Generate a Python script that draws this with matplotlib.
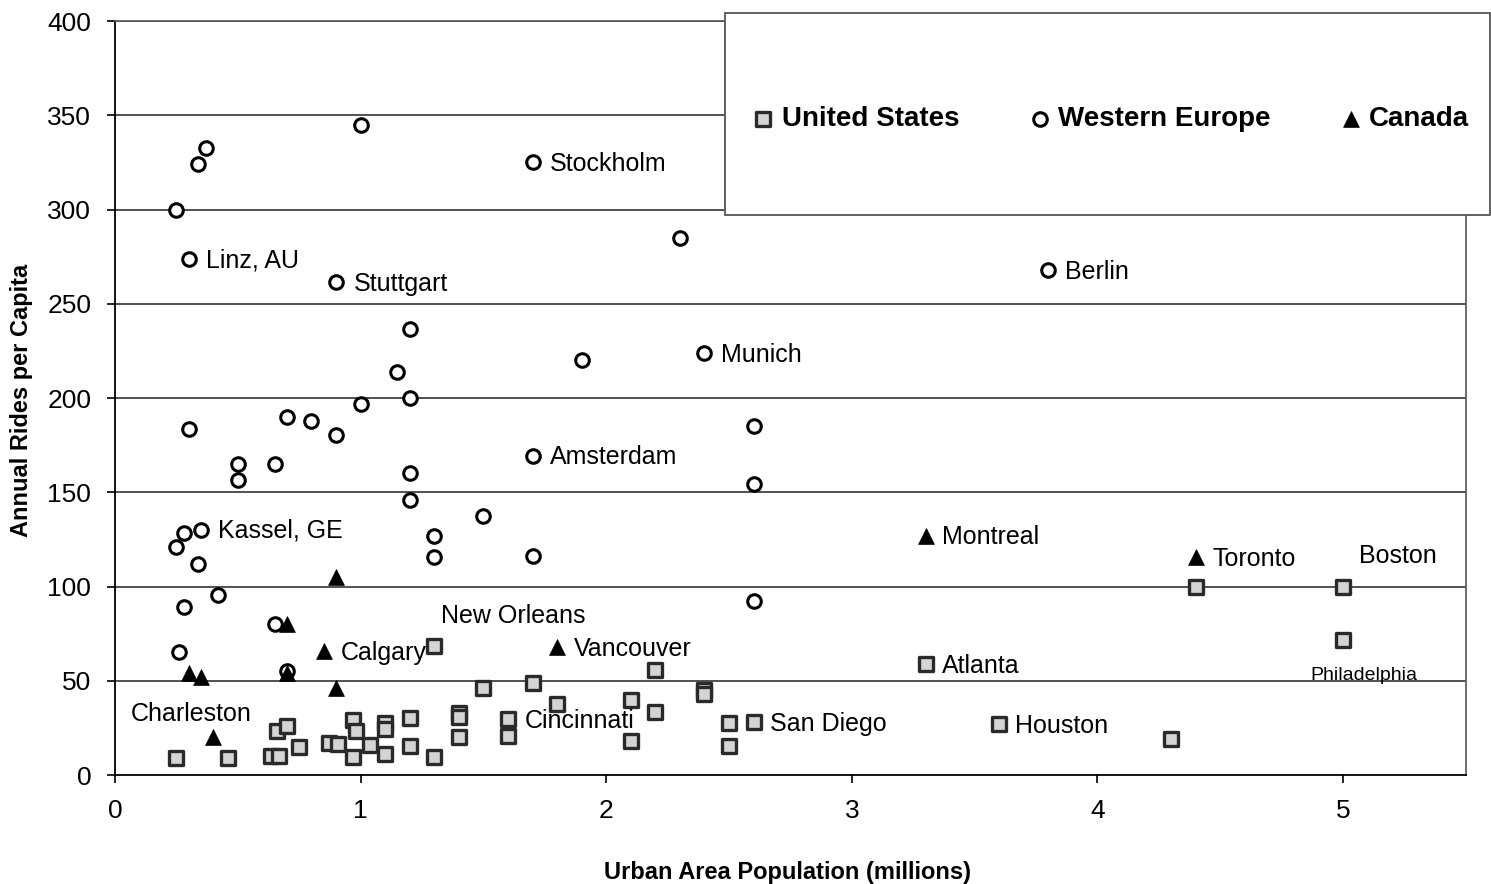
import matplotlib
matplotlib.use("Agg")
import matplotlib.pyplot as plt
from matplotlib.patches import Rectangle

plt.rcParams['font.family'] = ['Liberation Sans', 'DejaVu Sans']

# United States (squares)
us_x = [0.25, 0.46, 0.635, 0.668, 0.66, 0.70, 0.75, 0.87, 0.91, 0.97, 0.98, 0.97,
        1.04, 1.10, 1.10, 1.10, 1.20, 1.20, 1.30, 1.30, 1.40, 1.40, 1.40, 1.50,
        1.60, 1.60, 1.70, 1.80, 2.10, 2.10, 2.20, 2.20, 2.40, 2.40, 2.50, 2.50,
        2.60, 3.30, 3.60, 4.30, 4.40, 5.00, 5.00]
us_y = [9, 9, 10, 10, 23.5, 26, 15, 17, 16.5, 29, 23.5, 9.5,
        16, 27.5, 24.5, 11, 30, 15.5, 68.4, 9.5, 33, 31, 20, 46,
        29.5, 20.7, 48.8, 37.7, 40, 18, 55.7, 33.5, 45, 43, 27.6, 15.4,
        28, 58.9, 27, 19, 100, 100, 71.6]

# Western Europe (circles)
we_x = [0.25, 0.34, 0.37, 1.0, 1.7, 2.3, 0.3, 0.9, 3.8, 1.2, 1.15, 1.9, 2.4,
        1.0, 1.2, 0.7, 0.8, 0.9, 0.3, 2.6, 1.7, 0.5, 0.5, 0.65, 1.2, 1.2, 2.6,
        1.5, 1.3, 1.3, 1.7, 0.28, 0.35, 0.25, 0.34, 0.42, 0.28, 2.6, 0.65,
        0.26, 0.7]
we_y = [299.5, 324, 332.5, 345, 325, 285, 273.5, 261.5, 268, 236.5, 214, 220, 224,
        197, 200, 190, 188, 180.5, 183.5, 185, 169.5, 165, 156.5, 165, 160, 146, 154.5,
        137.5, 127, 115.5, 116, 128.5, 130, 121, 112, 95.5, 89, 92.5, 80,
        65.5, 55]

# Canada (triangles)
ca_x = [0.9, 0.7, 0.85, 0.3, 0.35, 0.7, 0.9, 0.4, 1.8, 3.3, 4.4]
ca_y = [105, 80, 66, 54, 52, 54, 46, 20, 68, 127, 115.5]

# city labels: text, x, y (left edge / middle of text)
city_names = ["Stockholm", "Linz, AU", "Stuttgart", "Berlin", "Munich", "Amsterdam",
              "Kassel, GE", "Montreal", "Toronto", "Boston", "New Orleans", "Vancouver",
              "Calgary", "Atlanta", "Charleston", "Cincinnati", "San Diego", "Houston"]
city_x = [1.771, 0.371, 0.973, 3.868, 2.467, 1.771, 0.419, 3.367, 4.467, 5.065,
          1.327, 1.869, 0.92, 3.367, 0.065, 1.669, 2.667, 3.665]
city_y = [325, 273.7, 261.5, 268, 224, 169.8, 130.5, 127.3, 115.6, 117.2,
          85.4, 68, 65.8, 58.9, 33.4, 29.7, 28.1, 27]

fig = plt.figure(figsize=(14.91, 8.84), dpi=100)
ax = fig.add_axes([0.0771, 0.1233, 0.9061, 0.8529])

for yv in range(50, 401, 50):
    ax.axhline(yv, color='#222222', lw=1.1, zorder=1)

us = ax.scatter(us_x, us_y, marker='s', s=110, facecolor='#d4d4d4',
                edgecolor='#2a2a2a', linewidths=2.4, zorder=3, label='United States')
we = ax.scatter(we_x, we_y, marker='o', s=95, facecolor='white',
                edgecolor='black', linewidths=2.2, zorder=4, label='Western Europe')
ca = ax.scatter(ca_x, ca_y, marker='^', s=130, facecolor='black',
                edgecolor='black', linewidths=0.5, zorder=5, label='Canada')

for name, tx, ty in zip(city_names, city_x, city_y):
    ax.text(tx, ty - 1, name, fontsize=18, ha='left', va='center', zorder=6)
ax.text(4.866, 52.6, "Philadelphia", fontsize=14, ha='left', va='center', zorder=6)

ax.set_xlim(0, 5.5)
ax.set_ylim(0, 400)
ax.set_xticks(range(0, 6))
ax.set_yticks(range(0, 401, 50))
ax.tick_params(axis='both', direction='out', length=6, width=1.2, labelsize=19, pad=11)
for side in ['left', 'bottom']:
    ax.spines[side].set_color('black')
    ax.spines[side].set_linewidth(1.3)
for side in ['top', 'right']:
    ax.spines[side].set_color('#555555')
    ax.spines[side].set_linewidth(1.2)

fig.text(787 / 1491, 1 - 872 / 884, "Urban Area Population (millions)",
         fontsize=17, fontweight='bold', ha='center', va='center')
fig.text(22 / 1491, 1 - 400 / 884, "Annual Rides per Capita",
         fontsize=17, fontweight='bold', ha='center', va='center', rotation=90)

# legend box
box = Rectangle((725 / 1491, 1 - 215 / 884), 1 - 725 / 1491 - 0.0005, (215 - 13) / 884,
                transform=fig.transFigure, facecolor='white', edgecolor='#555555',
                lw=1.3, zorder=5)
fig.patches.append(box)
leg = fig.legend(handles=[us, we, ca], loc='center', ncol=3,
                 bbox_to_anchor=(1112 / 1491, 1 - 119 / 884), bbox_transform=fig.transFigure,
                 frameon=False, prop={'weight': 'bold', 'size': 20},
                 handlelength=0.6, handletextpad=0.35, columnspacing=2.6, markerscale=1.0)
leg.set_zorder(10)

fig.savefig("out.png", dpi=100)
